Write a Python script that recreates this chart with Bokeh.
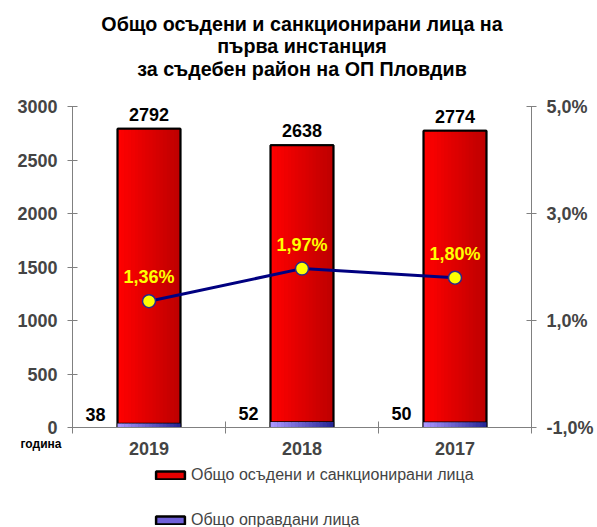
from bokeh.plotting import figure
from bokeh.models import (Range1d, LinearAxis, FixedTicker, Legend, LegendItem, Title)
from bokeh.layouts import column
from bokeh.core.properties import value
from bokeh.embed import file_html
from bokeh.resources import INLINE
import numpy as np

# ---- data ----
years = ["2019", "2018", "2017"]
convicted = [2792, 2638, 2774]
acquitted = [38, 52, 50]
pct = [1.36, 1.97, 1.80]
left_ticks = [0, 500, 1000, 1500, 2000, 2500, 3000]
right_ticks = [-1, 1, 3, 5]
title_lines = ["Общо осъдени и санкционирани лица на", "първа инстанция",
               "за съдебен район на ОП Пловдив"]
legend_labels = ["Общо осъдени и санкционирани лица", "Общо оправдани лица"]
axis_title = "година"

FONT = "Liberation Sans"
W_PAGE = 597
H_HEAD, H_MAIN, H_FOOT = 90, 374, 63
n = len(years)
xc = np.arange(n) + 0.5
bounds = list(np.arange(n + 1).astype(float))

# ---------- header with the title ----------
head = figure(width=W_PAGE, height=H_HEAD, output_backend="svg", toolbar_location=None,
              x_range=Range1d(0, W_PAGE), y_range=Range1d(0, H_HEAD), min_border=0,
              x_axis_type=None, y_axis_type=None)
head.outline_line_color = None
head.grid.visible = False
head.text(x=[W_PAGE / 2] * 3, y=[H_HEAD - 23, H_HEAD - 45.5, H_HEAD - 68], text=title_lines,
          text_font=value(FONT), text_font_style="bold", text_font_size="19.7px",
          text_align="center", text_baseline="middle", text_color="black")

# ---------- main chart ----------
p = figure(width=W_PAGE, height=H_MAIN, output_backend="svg", toolbar_location=None,
           x_range=Range1d(0, n), y_range=Range1d(0, 3000),
           min_border_left=72, min_border_right=66, min_border_top=16,
           min_border_bottom=37, x_axis_type=None, y_axis_type=None)
p.outline_line_color = None
p.grid.visible = False
p.extra_y_ranges = {"pct": Range1d(-1, 5)}

AX = "#808080"

ly = LinearAxis(ticker=FixedTicker(ticks=left_ticks, minor_ticks=[]))
ly.axis_line_color = AX
ly.major_tick_line_color = AX
ly.major_tick_in = 5
ly.major_tick_out = 5
ly.major_label_text_font = FONT
ly.major_label_text_font_style = "bold"
ly.major_label_text_font_size = "18px"
ly.major_label_standoff = 10
p.add_layout(ly, "left")

ry = LinearAxis(y_range_name="pct", ticker=FixedTicker(ticks=right_ticks, minor_ticks=[]))
ry.major_label_overrides = {t: (f"{t:.1f}%").replace(".", ",") for t in right_ticks}
ry.axis_line_color = AX
ry.major_tick_line_color = AX
ry.major_tick_in = 5
ry.major_tick_out = 5
ry.major_label_text_font = FONT
ry.major_label_text_font_style = "bold"
ry.major_label_text_font_size = "18px"
ry.major_label_standoff = 10
p.add_layout(ry, "right")

bx = LinearAxis(ticker=FixedTicker(ticks=list(xc), minor_ticks=bounds))
bx.major_label_overrides = {float(x): y for x, y in zip(xc, years)}
bx.axis_line_color = AX
bx.major_tick_line_color = None
bx.major_tick_in = 0
bx.major_tick_out = 0
bx.minor_tick_line_color = AX
bx.minor_tick_in = 6
bx.minor_tick_out = 6
bx.major_label_text_font = FONT
bx.major_label_text_font_style = "bold"
bx.major_label_text_font_size = "18px"
bx.major_label_standoff = 8
p.add_layout(bx, "below")

# "година" caption beside the category labels
p.add_layout(Title(text=axis_title, align="left", offset=-52, standoff=-41,
                   vertical_align="top",
                   text_font=FONT, text_font_style="bold", text_font_size="12px",
                   text_color="black"), "below")

W = 0.41
NS = 18

def grad(c0, c1, k):
    t = k / (NS - 1)
    r, g, b = [int(round(a + (bb - a) * t)) for a, bb in zip(c0, c1)]
    return f"#{r:02x}{g:02x}{b:02x}"

RED0, RED1 = (255, 0, 0), (190, 0, 0)
PUR0, PUR1 = (170, 150, 255), (40, 40, 150)

p.vbar(x=xc, top=convicted, bottom=0, width=W, fill_color="#e00000",
       line_color="black", line_width=2)
for k in range(NS):
    off = -W / 2 + (k + 0.5) * W / NS
    p.vbar(x=xc + off, top=convicted, bottom=0, width=W / NS * 1.08,
           fill_color=grad(RED0, RED1, k), line_color=None)
p.vbar(x=xc, top=convicted, bottom=0, width=W, fill_alpha=0,
       line_color="black", line_width=2)

p.vbar(x=xc, top=acquitted, bottom=0, width=W, fill_color="#6a5fd0",
       line_color="black", line_width=1.5)
for k in range(NS):
    off = -W / 2 + (k + 0.5) * W / NS
    p.vbar(x=xc + off, top=acquitted, bottom=0, width=W / NS * 1.08,
           fill_color=grad(PUR0, PUR1, k), line_color=None)

p.text(x=xc, y=convicted, text=[str(v) for v in convicted], text_font=value(FONT),
       text_font_style="bold", text_font_size="18px", text_align="center",
       text_baseline="bottom", y_offset=-8, text_color="black")
p.text(x=xc - 0.35, y=acquitted, text=[str(v) for v in acquitted], text_font=value(FONT),
       text_font_style="bold", text_font_size="18px", text_align="center",
       text_baseline="bottom", y_offset=-2, text_color="black")

p.line(x=xc, y=pct, y_range_name="pct", line_color="#000080", line_width=3)
p.scatter(x=xc, y=pct, y_range_name="pct", size=13, fill_color="#ffff00",
          line_color="#2a2a8a", line_width=1.5)
p.text(x=xc, y=pct, y_range_name="pct",
       text=[(f"{v:.2f}%").replace(".", ",") for v in pct], text_font=value(FONT),
       text_font_style="bold", text_font_size="18px", text_align="center",
       text_baseline="bottom", y_offset=-14, text_color="#ffff00")

# ---------- footer with the legend ----------
foot = figure(width=W_PAGE, height=H_FOOT, output_backend="svg", toolbar_location=None,
              x_range=Range1d(0, 1), y_range=Range1d(0, 1), min_border=0,
              x_axis_type=None, y_axis_type=None)
foot.outline_line_color = None
foot.grid.visible = False
# legend key glyphs: no drawable data, only their legend swatches show
r1 = foot.vbar(x=[np.nan], top=[np.nan], bottom=[np.nan], width=0.1, fill_color="#e60000",
               line_color="black", line_width=2.5)
r2 = foot.vbar(x=[np.nan], top=[np.nan], bottom=[np.nan], width=0.1, fill_color="#7060d8",
               line_color="black", line_width=2.5)
legend = Legend(items=[LegendItem(label=legend_labels[0], renderers=[r1]),
                       LegendItem(label=legend_labels[1], renderers=[r2])],
                location=(80, -2), orientation="vertical", padding=0, margin=0,
                border_line_color=None, background_fill_alpha=0,
                glyph_width=36, glyph_height=10, label_height=16, spacing=27,
                label_text_font=FONT, label_text_font_size="16px", label_standoff=3)
foot.add_layout(legend, "center")

layout = column(head, p, foot, spacing=0)
open("out.html", "w").write(file_html(layout, INLINE))
